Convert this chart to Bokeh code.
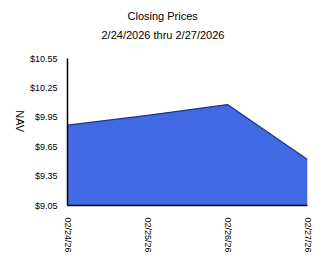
import math
from bokeh.plotting import figure
from bokeh.models import Range1d, FixedTicker, Title
from bokeh.embed import file_html
from bokeh.resources import INLINE

dates = ["02/24/26", "02/25/26", "02/26/26", "02/27/26"]
nav = [9.87, 9.97, 10.08, 9.52]
y_ticks = [9.05, 9.35, 9.65, 9.95, 10.25, 10.55]
y_tick_labels = ["$9.05", "$9.35", "$9.65", "$9.95", "$10.25", "$10.55"]
title_text = "Closing Prices"
subtitle_text = "2/24/2026 thru 2/27/2026"
y_label = "NAV"

xs = list(range(len(dates)))
FONT = "Liberation Sans"

p = figure(width=324, height=267, output_backend="svg", toolbar_location=None,
           x_range=Range1d(0, len(dates) - 1), y_range=Range1d(y_ticks[0], y_ticks[-1]),
           min_border_left=67, min_border_right=17, min_border_top=58, min_border_bottom=62)
p.outline_line_color = None
p.background_fill_color = "white"
p.border_fill_color = "white"
p.xgrid.visible = False
p.ygrid.visible = False

p.varea(x=xs, y1=[y_ticks[0]] * len(xs), y2=nav, fill_color="#4169E1")
p.line(x=xs, y=nav, line_color="#1f3388", line_width=1.2)

for ax in (p.xaxis[0], p.yaxis[0]):
    ax.axis_line_color = "black"
    ax.axis_line_width = 1.5
    ax.major_tick_line_color = None
    ax.minor_tick_line_color = None
    ax.major_label_text_font = FONT
    ax.major_label_text_font_size = "9px"
    ax.major_label_text_color = "black"

p.xaxis.ticker = FixedTicker(ticks=xs)
p.xaxis.major_label_overrides = {i: d for i, d in enumerate(dates)}
p.xaxis.major_label_orientation = -math.pi / 2
p.xaxis.major_label_standoff = 6

p.yaxis.ticker = FixedTicker(ticks=y_ticks)
p.yaxis.major_label_overrides = {t: l for t, l in zip(y_ticks, y_tick_labels)}
p.yaxis.major_label_standoff = 4
p.yaxis.axis_label = y_label
p.yaxis.axis_label_text_font = FONT
p.yaxis.axis_label_text_font_size = "11px"
p.yaxis.axis_label_text_font_style = "normal"
p.yaxis.axis_label_text_color = "black"
p.yaxis.axis_label_standoff = 7
try:
    p.yaxis.axis_label_orientation = -math.pi / 2
except Exception:
    pass

# spacer between plot frame and subtitle
p.add_layout(Title(text=" ", standoff=2, text_font=FONT, text_font_size="11px",
                   text_font_style="normal"), "above")
p.add_layout(Title(text=subtitle_text, align="left", offset=34, standoff=4,
                   text_font=FONT, text_font_size="11px", text_font_style="normal",
                   text_color="black"), "above")
p.add_layout(Title(text=title_text, align="left", offset=60, standoff=6,
                   text_font=FONT, text_font_size="11px", text_font_style="normal",
                   text_color="black"), "above")

open("out.html", "w").write(file_html(p, INLINE))
